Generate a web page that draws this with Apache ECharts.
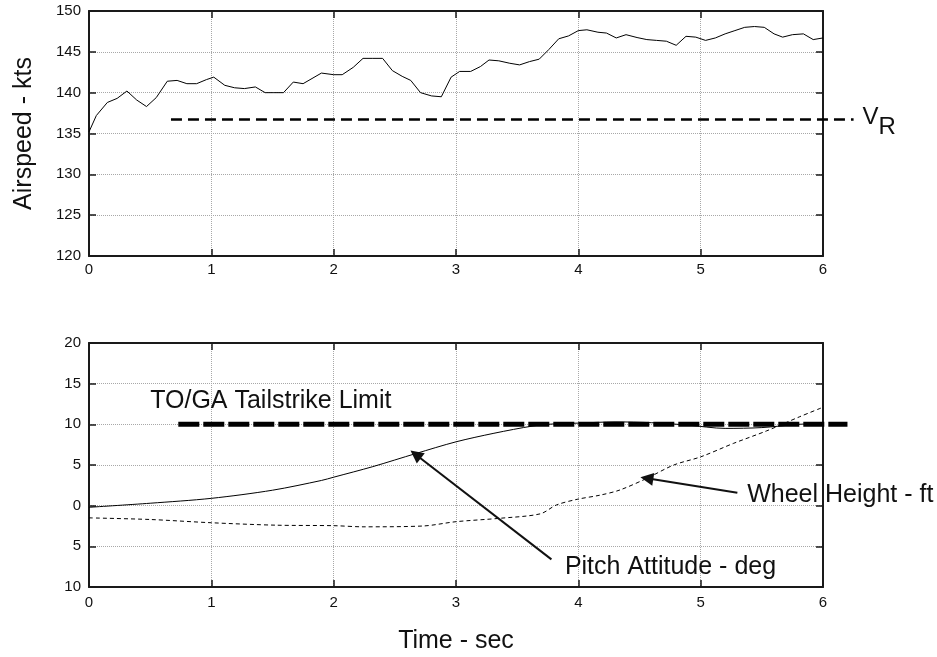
<!DOCTYPE html>
<html>
<head>
<meta charset="utf-8">
<script src="https://cdn.jsdelivr.net/npm/echarts@6/dist/echarts.min.js"></script>
<style>
  html, body { margin: 0; padding: 0; background: #fff; }
  #chart { width: 937px; height: 657px; }
</style>
</head>
<body>
<div id="chart"></div>
<script>
  // airspeed trace (top panel)
  const airTime = [0, 0.06, 0.15, 0.23, 0.31, 0.39, 0.47, 0.55, 0.64, 0.72, 0.80, 0.88, 0.96, 1.02,
    1.11, 1.19, 1.27, 1.36, 1.44, 1.51, 1.59, 1.67, 1.75, 1.90, 2.00, 2.07, 2.16, 2.24, 2.32, 2.40,
    2.48, 2.56, 2.63, 2.71, 2.80, 2.88, 2.96, 3.03, 3.12, 3.20, 3.27, 3.35, 3.44, 3.52, 3.60, 3.68,
    3.76, 3.84, 3.92, 4.00, 4.07, 4.16, 4.23, 4.31, 4.39, 4.48, 4.56, 4.64, 4.72, 4.80, 4.88, 4.96,
    5.04, 5.12, 5.20, 5.28, 5.36, 5.44, 5.52, 5.60, 5.67, 5.75, 5.84, 5.92, 6.00]
  const airSpeed = [135.2, 137.2, 138.8, 139.3, 140.2, 139.1, 138.3, 139.4, 141.4, 141.5, 141.1, 141.1, 141.6, 141.9,
    140.9, 140.6, 140.5, 140.7, 140.0, 140.0, 140.0, 141.3, 141.1, 142.4, 142.2, 142.2, 143.1, 144.2, 144.2, 144.2,
    142.7, 142.0, 141.5, 140.0, 139.6, 139.5, 141.9, 142.6, 142.6, 143.2, 144.0, 143.9, 143.6, 143.4, 143.8, 144.1,
    145.3, 146.6, 146.95, 147.6, 147.7, 147.4, 147.3, 146.7, 147.1, 146.75, 146.5, 146.4, 146.3, 145.8, 146.9, 146.8,
    146.4, 146.7, 147.2, 147.6, 148.0, 148.1, 148.0, 147.2, 146.8, 147.1, 147.2, 146.5, 146.7]

  // rotation speed reference line (runs past the right edge of the box)
  const vrTime = [0.67, 6.25]
  const vrSpeed = [136.7, 136.7]

  // bottom panel traces
  const pitchTime = [0, 0.5, 1.0, 1.5, 1.9, 2.0, 2.32, 2.67, 3.0, 3.31, 3.63, 3.8, 4.0, 4.3, 4.6, 4.9, 5.2, 5.5, 5.8, 6.0]
  const pitchDeg = [-0.2, 0.3, 0.9, 1.9, 3.1, 3.5, 4.8, 6.4, 7.85, 8.9, 9.8, 10.05, 10.15, 10.3, 10.2, 9.9, 9.5, 9.6, 10.0, 10.1]

  const wheelTime = [0, 0.5, 1.0, 1.53, 2.0, 2.24, 2.73, 3.0, 3.36, 3.69, 3.82, 3.99, 4.18, 4.34, 4.56, 4.78, 5.0, 5.27, 5.54, 5.81, 6.0]
  const wheelFt = [-1.5, -1.7, -2.1, -2.4, -2.46, -2.6, -2.5, -1.97, -1.55, -1.0, 0.08, 0.78, 1.3, 1.93, 3.36, 5.0, 6.0, 7.67, 9.2, 10.94, 12.1]

  const tailTime = [0.73, 6.2]
  const tailLimit = [10, 10]

  // axis ranges / ticks
  const xTicks = [0, 1, 2, 3, 4, 5, 6]
  const airTicks = [120, 125, 130, 135, 140, 145, 150]
  const lowTicks = [-10, -5, 0, 5, 10, 15, 20]
  const xOverhang = 6.5 // hidden overlay axis so reference lines can run past t=6

  const zip = (xs, ys) => xs.map((x, i) => [x, ys[i]])

  const FONT = 'Liberation Sans, Arial, sans-serif'
  const INK = '#111'
  const PLOT_W = 734

  const makeAxis = (gridIndex, position, ticks, showLabel, extra) => ({
    type: 'value',
    gridIndex,
    position,
    min: ticks[0],
    max: ticks[ticks.length - 1],
    interval: ticks[1] - ticks[0],
    axisLine: { show: true, onZero: false, lineStyle: { color: '#1a1a1a', width: 2 } },
    axisTick: { show: true, inside: true, length: 7, lineStyle: { color: '#1a1a1a', width: 1.5 } },
    axisLabel: {
      show: showLabel,
      fontFamily: FONT,
      fontSize: 15,
      color: INK,
      formatter: (v) => String(Math.abs(v))
    },
    splitLine: {
      show: showLabel,
      lineStyle: { color: '#a8a8a8', width: 1, type: [1, 1] }
    },
    ...extra
  })

  const hiddenAxis = (gridIndex, min, max) => ({ type: 'value', gridIndex, min, max, show: false })

  const chart = echarts.init(document.getElementById('chart'))

  const option = {
    animation: false,
    backgroundColor: '#fff',
    textStyle: { fontFamily: FONT },
    grid: [
      { left: 89, top: 11, width: PLOT_W, height: 245, outerBoundsMode: 'none' },
      { left: 89, top: 343, width: PLOT_W, height: 244, outerBoundsMode: 'none' },
      // overlays, same scale but wider
      { left: 89, top: 11, width: PLOT_W * xOverhang / 6, height: 245, outerBoundsMode: 'none' },
      { left: 89, top: 343, width: PLOT_W * xOverhang / 6, height: 244, outerBoundsMode: 'none' }
    ],
    xAxis: [
      makeAxis(0, 'bottom', xTicks, true, { axisLabel: { show: true, fontFamily: FONT, fontSize: 15, color: INK, margin: 6 } }),
      makeAxis(0, 'top', xTicks, false),
      makeAxis(1, 'bottom', xTicks, true, {
        axisLabel: { show: true, fontFamily: FONT, fontSize: 15, color: INK, margin: 8 },
        name: 'Time - sec',
        nameLocation: 'middle',
        nameGap: 42,
        nameTextStyle: { fontFamily: FONT, fontSize: 25, color: INK }
      }),
      makeAxis(1, 'top', xTicks, false),
      hiddenAxis(2, 0, xOverhang),
      hiddenAxis(3, 0, xOverhang)
    ],
    yAxis: [
      makeAxis(0, 'left', airTicks, true, {
        name: 'Airspeed - kts',
        nameLocation: 'middle',
        nameRotate: 90,
        nameGap: 52,
        nameTextStyle: { fontFamily: FONT, fontSize: 25, color: INK }
      }),
      makeAxis(0, 'right', airTicks, false),
      makeAxis(1, 'left', lowTicks, true),
      makeAxis(1, 'right', lowTicks, false),
      hiddenAxis(2, airTicks[0], airTicks[airTicks.length - 1]),
      hiddenAxis(3, lowTicks[0], lowTicks[lowTicks.length - 1])
    ],
    series: [
      {
        name: 'Airspeed',
        type: 'line',
        xAxisIndex: 0,
        yAxisIndex: 0,
        data: zip(airTime, airSpeed),
        showSymbol: false,
        lineStyle: { color: '#000', width: 1 }
      },
      {
        name: 'VR',
        type: 'line',
        xAxisIndex: 4,
        yAxisIndex: 4,
        symbol: 'circle',
        symbolSize: 0,
        showSymbol: true,
        data: zip(vrTime, vrSpeed).map((p, i) => ({
          value: p,
          label: i === 1 ? {
            show: true,
            position: 'right',
            distance: 9,
            offset: [0, 3],
            formatter: '{v|V}{r|R}',
            rich: {
              v: { fontFamily: FONT, fontSize: 24, color: INK, padding: [0, 0, 10, 0] },
              r: { fontFamily: FONT, fontSize: 24, color: INK, padding: [10, 0, 0, 0] }
            }
          } : { show: false }
        })),
        lineStyle: { color: '#000', width: 2.5, type: [11, 6] }
      },
      {
        name: 'Tailstrike',
        type: 'line',
        xAxisIndex: 5,
        yAxisIndex: 5,
        showSymbol: false,
        data: zip(tailTime, tailLimit),
        lineStyle: { color: '#000', width: 5, type: [21, 4] }
      },
      {
        name: 'Pitch Attitude',
        type: 'line',
        xAxisIndex: 2,
        yAxisIndex: 2,
        showSymbol: false,
        smooth: 0.3,
        data: zip(pitchTime, pitchDeg),
        lineStyle: { color: '#000', width: 1 },
        markPoint: {
          symbol: 'circle',
          symbolSize: 0,
          label: {
            show: true,
            position: 'right',
            distance: 0,
            fontFamily: FONT,
            fontSize: 25,
            color: INK
          },
          data: [
            { coord: [0.5, 12.8], label: { formatter: 'TO/GA Tailstrike Limit' } },
            { coord: [3.89, -7.5], label: { formatter: 'Pitch Attitude - deg' } },
            { coord: [5.38, 1.3], label: { formatter: 'Wheel Height - ft' } }
          ]
        },
        markLine: {
          silent: true,
          symbol: ['none', 'triangle'],
          symbolSize: 13,
          label: { show: false },
          lineStyle: { color: '#111', width: 2, type: 'solid' },
          itemStyle: { color: '#111' },
          data: [
            [{ coord: [3.78, -6.6] }, { coord: [2.67, 6.3] }],
            [{ coord: [5.30, 1.6] }, { coord: [4.56, 3.36] }]
          ]
        }
      },
      {
        name: 'Wheel Height',
        type: 'line',
        xAxisIndex: 2,
        yAxisIndex: 2,
        showSymbol: false,
        smooth: 0.3,
        data: zip(wheelTime, wheelFt),
        lineStyle: { color: '#000', width: 1, type: [4, 3] }
      }
    ]
  }

  chart.setOption(option)
</script>
</body>
</html>
